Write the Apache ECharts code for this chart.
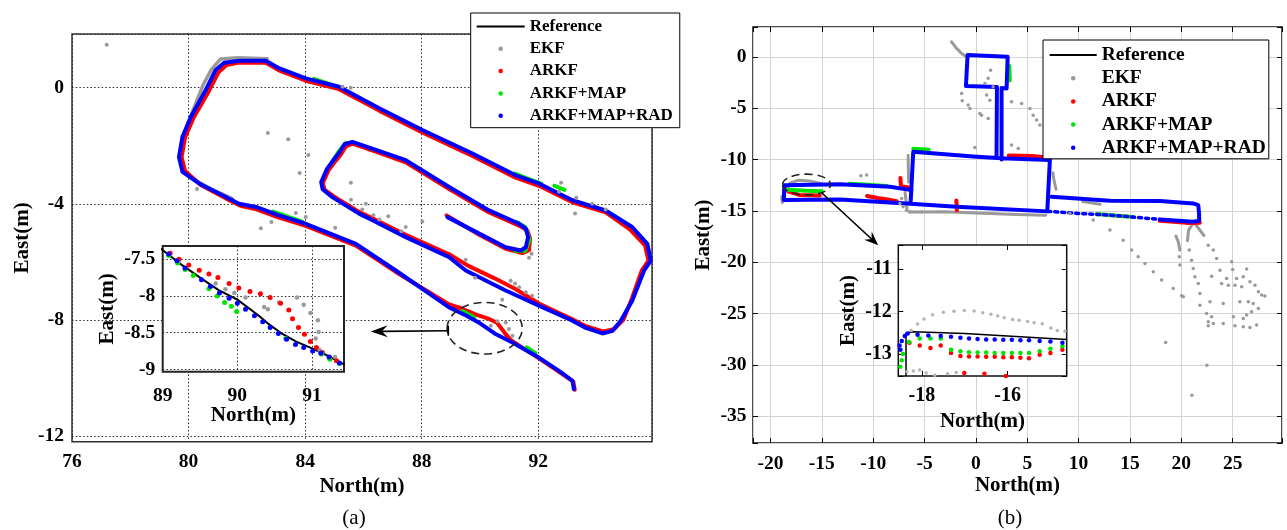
<!DOCTYPE html>
<html><head><meta charset="utf-8">
<script src="https://cdn.jsdelivr.net/npm/echarts@6/dist/echarts.min.js"></script>
<style>html,body{margin:0;padding:0;background:#fff}#c{width:1287px;height:530px}</style>
</head><body><div id="c"></div>
<script>
// ================= DATA =================
const legendNames = ['Reference','EKF','ARKF','ARKF+MAP','ARKF+MAP+RAD'];

// ---- panel (a) axes ----
const xExtA = [76, 95.9], yExtA = [-12.2, 1.85];
const xTicksA = [76, 80, 84, 88, 92], yTicksA = [-12, -8, -4, 0];
const xExtAi = [89, 91.43], yExtAi = [-9.03, -7.32];
const xTicksAi = [89, 90, 91], yTicksAi = [-9, -8.5, -8, -7.5];

// ---- panel (a) main trajectories ----
const radA = [
[88.88,-4.46],[89.97,-5.03],[90.88,-5.50],[91.40,-5.61],[91.57,-5.50],[91.65,-5.15],[91.57,-4.86],[91.34,-4.69],[90.31,-4.23],[88.94,-3.42],[87.45,-2.50],[86.30,-2.10],[85.62,-1.87],[85.35,-1.95],[85.16,-2.25],[84.95,-2.52],[84.75,-2.80],[84.55,-3.25],[84.60,-3.50],[84.93,-3.77],[85.85,-4.34],[86.31,-4.57],[87.45,-5.15],[88.94,-5.84],[89.51,-6.30],[90.88,-6.99],[92.02,-7.51],[93.17,-8.03],[93.63,-8.28],[94.20,-8.47],[94.54,-8.38],[94.83,-8.03],[95.22,-7.34],[95.63,-6.30],[95.86,-5.96],[95.74,-5.38],[95.22,-4.80],[94.31,-4.23],[93.17,-3.88],[92.02,-3.30],[91.22,-3.02],[89.74,-2.27],[88.02,-1.46],[86.54,-0.71],[85.16,0.03],[84.02,0.32],[83.10,0.67],[82.65,0.93],[81.73,0.93],[81.22,0.86],[80.93,0.61],[80.59,-0.08],[80.08,-1.00],[79.79,-1.69],[79.67,-2.39],[79.79,-2.90],[80.36,-3.30],[81.28,-3.77],[81.73,-4.00],[82.31,-4.11],[83.10,-4.40],[84.02,-4.69],[85.74,-5.38],[87.11,-6.30],[88.94,-7.57],[89.52,-7.85],[90.00,-8.12],[90.55,-8.50],[91.11,-8.78],[92.02,-9.30],[92.71,-9.76],[93.17,-10.10],[93.22,-10.39]
];
const arkfA = [
[88.85,-4.40],[89.97,-5.07],[90.88,-5.55],[91.45,-5.70],[91.68,-5.60],[91.72,-5.20],[91.62,-4.92],[91.36,-4.76],[90.31,-4.30],[88.94,-3.49],[87.45,-2.57],[86.30,-2.16],[85.62,-1.93],[85.40,-2.02],[85.22,-2.31],[85.00,-2.58],[84.80,-2.85],[84.61,-3.27],[84.66,-3.51],[84.97,-3.74],[85.85,-4.28],[86.31,-4.50],[87.45,-5.07],[88.94,-5.74],[89.60,-6.14],[90.50,-6.57],[91.20,-6.93],[92.02,-7.44],[93.17,-7.98],[93.63,-8.22],[94.22,-8.40],[94.60,-8.32],[94.92,-8.00],[95.22,-7.24],[95.55,-6.30],[95.78,-5.96],[95.66,-5.43],[95.14,-4.88],[94.31,-4.30],[93.17,-3.95],[92.02,-3.38],[91.22,-3.10],[89.74,-2.35],[88.02,-1.54],[86.54,-0.79],[85.16,-0.05],[84.02,0.24],[83.10,0.60],[82.65,0.86],[81.73,0.87],[81.30,0.78],[81.02,0.52],[80.69,-0.13],[80.17,-1.04],[79.88,-1.71],[79.76,-2.39],[79.88,-2.87],[80.42,-3.35],[81.32,-3.84],[81.78,-4.07],[82.33,-4.19],[83.10,-4.48],[84.02,-4.76],[85.74,-5.44],[87.11,-6.35],[88.94,-7.47],[89.35,-7.60],[89.89,-7.83],[90.31,-7.97],[90.58,-8.10],[90.74,-8.31],[90.90,-8.52],[91.06,-8.70],[91.33,-8.88],[92.02,-9.33],[92.71,-9.79],[93.20,-10.13],[93.25,-10.41]
];
const mapA = [
[84.30,0.30],[84.70,0.17],[85.00,0.07], null,
[82.90,-4.27],[83.40,-4.44],[83.90,-4.62], null,
[91.20,-2.96],[91.70,-3.16],[92.10,-3.31], null,
[92.55,-3.38],[92.90,-3.52], null,
[91.25,-4.63],[91.55,-4.80],[91.70,-5.25],[91.55,-5.62],[91.20,-5.62], null,
[85.40,-1.90],[85.15,-2.20],[84.90,-2.60], null,
[89.40,-7.70],[89.80,-7.92], null,
[91.60,-8.95],[91.90,-9.15]
];
const ekfLineA = [
[79.95,-1.30],[80.30,-0.40],[80.50,0.10],[80.78,0.62],[81.10,0.99],[81.70,1.03],[82.70,1.00], null,
[80.15,-3.15],[80.90,-3.55],[81.50,-3.82]
];
const ekfPtsA = [
[77.19,1.48],[82.72,-1.56],[83.42,-1.78],[84.11,-2.32],[83.81,-2.94],[80.29,-3.49],[85.57,-3.28],[85.57,-3.86],[83.68,-4.32],[84.02,-4.46],[82.84,-4.63],[82.48,-4.84],[85.03,-4.83],[85.28,0.03],[85.56,0.00],[86.08,-4.00],[85.96,-4.20],[86.34,-4.40],[86.54,-4.54],[86.85,-4.43],[87.45,-4.80],[87.30,-4.95],[88.02,-4.61],[89.51,-5.93],[92.78,-3.28],[92.71,-3.59],[93.30,-3.79],[93.26,-4.34],[93.85,-4.00],[94.31,-4.20],[91.77,-5.72],[91.68,-5.86],[89.83,-6.55],[91.05,-6.65],[91.34,-6.88],[91.57,-7.05],[91.79,-7.17],[90.76,-7.31],[90.88,-8.09],[90.99,-8.32],[91.11,-8.55],[90.37,-8.20],[90.60,-8.05],[91.20,-6.75]
];
// annotations (a): ellipse [cx, cy, rx, ry], arrow [x0, y0, x1, y1]
const ellipseA = [90.16, -8.29, 1.29, 0.89];
const arrowA = [88.91, -8.375, 86.25, -8.40];

// ---- panel (a) inset ----
const refAi = [[88.98,-7.36],[89.26,-7.58],[89.53,-7.77],[89.75,-7.92],[90.00,-8.05],[90.16,-8.17],[90.29,-8.27],[90.43,-8.39],[90.61,-8.52],[90.79,-8.62],[90.97,-8.70],[91.15,-8.78],[91.43,-8.93]];
const ekfAi = [[89.71,-7.83],[89.84,-7.91],[89.96,-7.96],[90.11,-8.02],[90.36,-8.15],[90.41,-8.18],[90.56,-8.09],[90.80,-8.02],[90.89,-8.12],[90.98,-8.23],[91.08,-8.33],[91.09,-8.49],[91.05,-8.58],[91.10,-8.73],[91.31,-8.83]];
const arkfAi = [[88.99,-7.35],[89.10,-7.42],[89.22,-7.50],[89.35,-7.58],[89.49,-7.65],[89.62,-7.70],[89.74,-7.75],[89.89,-7.83],[90.02,-7.89],[90.17,-7.94],[90.31,-7.97],[90.44,-8.02],[90.58,-8.10],[90.69,-8.19],[90.74,-8.31],[90.82,-8.43],[90.90,-8.52],[90.98,-8.62],[91.06,-8.70],[91.14,-8.77],[91.24,-8.84],[91.33,-8.88]];
const mapAi = [[89.08,-7.45],[89.20,-7.55],[89.30,-7.64],[89.41,-7.72],[89.62,-7.90],[89.73,-8.00],[89.83,-8.09],[89.92,-8.14],[89.99,-8.21],[90.65,-8.58],[91.13,-8.79],[91.24,-8.86],[91.37,-8.92]];
const radAi = [[88.98,-7.36],[89.08,-7.43],[89.19,-7.52],[89.30,-7.62],[89.52,-7.78],[89.64,-7.87],[89.76,-7.96],[89.89,-8.03],[90.00,-8.10],[90.11,-8.18],[90.23,-8.27],[90.34,-8.35],[90.44,-8.43],[90.55,-8.51],[90.66,-8.59],[90.78,-8.66],[90.89,-8.70],[91.01,-8.75],[91.12,-8.78],[91.23,-8.83],[91.37,-8.91]];

// ---- panel (b) axes ----
const xExtB = [-21.7, 29.8], yExtB = [-37.6, 2.9];
const xTicksB = [-20,-15,-10,-5,0,5,10,15,20,25], yTicksB = [-35,-30,-25,-20,-15,-10,-5,0];
const xExtBi = [-18.55, -14.62], yExtBi = [-13.52, -10.44];
const xTicksBi = [-18, -16], yTicksBi = [-13, -12, -11];

// ---- panel (b) main trajectories ----
const radB = [
[2.01,-9.74],[2.05,-2.95],[-0.97,-2.85],[-0.81,0.17],[3.09,0.00],[2.99,-3.08],[2.50,-3.05],[2.50,-10.00], null,
[-6.36,-14.30],[-6.10,-9.25],[-0.26,-9.70],[2.50,-9.88],[7.20,-10.06],[6.95,-15.05], null,
[-18.70,-13.95],[-13.24,-13.89],[-6.36,-14.30],[-1.88,-14.60],[7.00,-15.05], null,
[17.92,-15.83],[21.16,-16.06],[21.74,-15.97],[21.72,-15.20],[21.65,-14.44],[21.16,-14.28],[17.92,-14.05],[13.05,-14.02],[7.37,-13.63], null,
[-18.70,-13.95],[-18.65,-12.50],[-13.24,-12.40],[-8.37,-12.66],[-6.26,-12.98]
];
const radDotB = [[7.00,-15.05],[9.15,-15.20],[11.42,-15.33],[13.05,-15.42],[15.50,-15.62],[17.92,-15.83]];
const arkfB = [
[-18.30,-13.10],[-17.20,-13.45],[-15.20,-13.50], null,
[-10.60,-13.55],[-9.60,-13.75],[-8.60,-13.90],[-7.70,-14.05], null,
[-7.35,-11.80],[-7.30,-12.60],[-6.60,-12.70], null,
[-1.90,-14.00],[-1.85,-14.95], null,
[3.20,-9.62],[5.50,-9.67],[7.30,-9.85], null,
[17.90,-15.97],[20.50,-16.17],[21.80,-16.15]
];
const mapB = [
[-12.30,-12.35],[-10.50,-12.45],[-8.70,-12.58], null,
[-6.10,-8.95],[-4.60,-9.05], null,
[3.25,-0.90],[3.30,-2.30], null,
[-18.30,-12.95],[-16.50,-13.05],[-15.00,-13.10], null,
[11.75,-15.30],[13.50,-15.45],[15.30,-15.60]
];
const ekfLineB = [
[-2.37,1.46],[-1.88,0.82],[-1.39,0.33],[-0.90,0.00], null,
[-6.60,-9.60],[-6.55,-12.20], null,
[-6.90,-13.20],[-6.70,-14.80], null,
[-6.50,-15.12],[-3.00,-15.08],[0.00,-15.22],[4.00,-15.36],[6.80,-15.42], null,
[-18.45,-12.90],[-18.10,-12.30],[-17.30,-12.02],[-16.20,-12.10],[-15.20,-12.30],[-14.60,-12.50], null,
[7.50,-11.30],[7.60,-12.00],[7.80,-12.90], null,
[21.20,-16.10],[20.70,-16.90],[20.60,-17.90], null,
[21.20,-16.10],[21.60,-16.60],[22.20,-17.40], null,
[19.47,-17.46],[19.70,-18.01],[19.86,-18.82], null,
[10.40,-14.10],[12.10,-14.35], null,
[-18.90,-13.60],[-18.85,-14.20]
];
const ekfPtsB = [
[1.43,-1.30],[1.20,-2.10],[0.88,-2.60],[1.68,-2.92],[1.04,-3.73],[1.36,-4.22],[-1.33,-4.28],[-0.58,-5.03],[0.55,-5.68],[1.20,-6.00],[-0.10,-8.82],[3.47,-4.38],[4.45,-4.54],[5.26,-5.03],[5.58,-5.68],[5.91,-6.16],[6.23,-6.65],[3.47,-8.60],[4.12,-8.92],[-1.39,-3.57],[-0.75,-4.70],[0.39,-5.51],
[-11.20,-11.59],[-10.64,-11.52],[-7.23,-13.79],[-7.40,-14.28],[-7.08,-14.60],[-6.75,-14.93],[-6.43,-15.09],[-5.29,-15.10],
[9.15,-15.25],[11.42,-15.90],[13.05,-16.87],[14.34,-17.85],[15.16,-18.82],[15.80,-19.47],[16.46,-20.12],[17.27,-20.93],[18.08,-21.74],[19.21,-22.55],[20.19,-23.37],
[19.80,-19.47],[19.86,-20.28],[20.77,-18.82],[21.00,-19.80],[21.16,-20.60],[21.32,-21.42],[21.65,-22.07],[21.81,-23.04],
[22.62,-18.34],[23.11,-18.82],[23.44,-19.63],[23.76,-20.77],
[24.90,-19.96],[25.00,-20.70],[26.36,-20.67],[22.95,-21.36],[24.41,-21.58],[25.38,-21.58],[26.03,-21.42],[26.68,-21.91],[23.92,-22.07],[24.57,-22.23],[25.22,-22.23],[25.87,-22.39],[27.17,-22.23],[27.50,-22.88],[27.82,-23.20],[28.14,-23.30],[22.79,-23.85],[24.08,-24.01],[25.70,-23.85],[26.52,-23.85],[27.00,-24.01],[27.50,-24.50],[26.84,-24.83],[26.36,-25.15],[26.03,-25.47],[22.46,-24.99],[22.95,-25.31],[22.62,-25.80],[23.11,-25.96],[22.62,-26.19],[24.08,-25.96],[25.06,-25.31],[25.22,-26.19],[26.03,-26.29],[26.68,-26.35],[27.33,-26.12],[21.81,-24.18],[20.03,-23.27],
[18.47,-27.81],[22.49,-30.02],[21.03,-32.94]
];
const ellipseB = [-16.48, -12.44, 2.34, 1.02];
const arrowB = [-15.02, -13.24, -9.51, -18.34];

// ---- panel (b) inset ----
const refBi = [[-18.37,-13.52],[-18.37,-12.51],[-18.20,-12.48],[-17.00,-12.52],[-16.00,-12.58],[-14.62,-12.66]];
const ekfBi = [[-18.25,-12.45],[-18.10,-12.30],[-17.95,-12.18],[-17.75,-12.08],[-17.50,-12.02],[-17.25,-12.00],[-17.01,-11.98],[-16.78,-11.99],[-16.58,-12.03],[-16.39,-12.07],[-16.23,-12.11],[-16.08,-12.15],[-15.88,-12.19],[-15.73,-12.21],[-15.53,-12.24],[-15.38,-12.27],[-15.19,-12.29],[-14.99,-12.39],[-14.84,-12.45],[-14.66,-12.47],
[-18.35,-13.42],[-18.20,-13.40],[-18.05,-13.38],[-17.90,-13.45],[-17.70,-13.50],[-17.40,-13.47],[-17.20,-13.44]];
const arkfBi = [[-18.29,-12.74],[-18.05,-12.80],[-17.80,-12.86],[-17.56,-12.80],[-17.32,-12.98],[-17.10,-13.05],[-16.90,-13.06],[-16.70,-13.06],[-16.50,-13.07],[-16.30,-13.07],[-16.10,-13.08],[-15.90,-13.08],[-15.70,-13.09],[-15.50,-13.10],[-15.25,-13.02],[-15.00,-12.98],[-14.72,-12.90],[-17.01,-13.45],[-16.54,-13.47],[-16.04,-13.52]];
const mapBi = [[-18.50,-13.30],[-18.47,-13.15],[-18.44,-13.00],[-18.30,-12.72],[-18.05,-12.64],[-17.80,-12.64],[-17.56,-12.64],[-17.32,-12.90],[-17.10,-12.94],[-16.90,-12.96],[-16.70,-12.97],[-16.50,-12.97],[-16.30,-12.98],[-16.10,-12.98],[-15.90,-12.98],[-15.70,-12.98],[-15.50,-12.98],[-15.25,-12.94],[-15.00,-12.88],[-14.72,-12.82]];
const radBi = [[-18.50,-12.90],[-18.52,-12.80],[-18.47,-12.70],[-18.40,-12.58],[-18.33,-12.52],[-18.10,-12.55],[-17.85,-12.57],[-17.56,-12.58],[-17.32,-12.60],[-17.10,-12.62],[-16.90,-12.64],[-16.70,-12.65],[-16.50,-12.66],[-16.30,-12.66],[-16.10,-12.67],[-15.90,-12.67],[-15.70,-12.68],[-15.50,-12.68],[-15.25,-12.70],[-15.00,-12.71],[-14.72,-12.74]];

// ================= STYLE / BUILD =================
const FONT = '"Liberation Serif","Times New Roman",serif';
const C = {ref:'#000000', ekf:'#9a9a9a', arkf:'#ff0000', map:'#00e600', rad:'#0000ff'};
const gap = a => a.map(p => p ? p : ['-','-']);
const nameStyle = {fontFamily:FONT, fontWeight:'bold', fontSize:21, color:'#000'};
const lbl = (size, margin, ticks) => ({fontFamily:FONT, fontWeight:'bold', fontSize:size, color:'#000', margin, customValues:ticks});
const step = t => t[1]-t[0];

function axis(o) {
  const base = {type:'value', min:o.ext[0], max:o.ext[1], minInterval:step(o.ticks), maxInterval:step(o.ticks),
    gridIndex:o.grid, z:o.z||0, axisLine:{show:false, onZero:false}, nameMoveOverlap:false,
    axisTick: o.tick ? {show:true, inside:true, length:5, lineStyle:{color:'#000', width:1}} : {show:false},
    axisLabel: o.label ? lbl(o.size||19.5, o.margin, o.ticks) : {show:false},
    splitLine: o.split ? {show:true, lineStyle:o.split} : {show:false}};
  if (o.position) base.position = o.position;
  if (o.name) Object.assign(base, {name:o.name, nameLocation:'middle', nameGap:o.nameGap, nameTextStyle:nameStyle});
  return base;
}
const dotted = {color:'#2a2a2a', width:1, type:[1.5,2.2]};
const light = {color:'#d4d4d4', width:1, type:'solid'};

function lineS(name, data, color, width, xi, yi, extra) {
  return Object.assign({type:'line', name, data:gap(data), xAxisIndex:xi, yAxisIndex:yi, symbol:'none', showSymbol:false,
    connectNulls:false, silent:true, animation:false, itemStyle:{color},
    lineStyle:{color, width, cap:'round', join:'round'}, z:2}, extra||{});
}
function dotS(name, data, color, size, xi, yi, z) {
  return {type:'scatter', name, data, xAxisIndex:xi, yAxisIndex:yi, symbol:'circle', symbolSize:size,
    itemStyle:{color, opacity:1}, silent:true, animation:false, z:z||2};
}
function ellipseItem(params, api) {
  const c = api.coord([api.value(0), api.value(1)]);
  const e = api.coord([api.value(0)+api.value(2), api.value(1)+api.value(3)]);
  return {type:'ellipse', shape:{cx:c[0], cy:c[1], rx:Math.abs(e[0]-c[0]), ry:Math.abs(e[1]-c[1])},
    style:{fill:'none', stroke:'#222', lineWidth:1.6, lineDash:[8,5]}};
}
function makeArrow(headLen, headHalf, bar) {
  return function(params, api) {
    const p0 = api.coord([api.value(0), api.value(1)]);
    const p1 = api.coord([api.value(2), api.value(3)]);
    const dx=p1[0]-p0[0], dy=p1[1]-p0[1], L=Math.hypot(dx,dy), ux=dx/L, uy=dy/L, nx=-uy, ny=ux;
    const bx=p1[0]-ux*headLen, by=p1[1]-uy*headLen;
    const mx=p1[0]-ux*headLen*0.65, my=p1[1]-uy*headLen*0.65;
    const ch = [
      {type:'line', shape:{x1:p0[0], y1:p0[1], x2:mx, y2:my}, style:{stroke:'#000', lineWidth:1.6}},
      {type:'polygon', shape:{points:[[p1[0],p1[1]],[bx+nx*headHalf,by+ny*headHalf],[mx,my],[bx-nx*headHalf,by-ny*headHalf]]}, style:{fill:'#000'}}
    ];
    if (bar) ch.push({type:'line', shape:{x1:p0[0]+nx*bar, y1:p0[1]+ny*bar, x2:p0[0]-nx*bar, y2:p0[1]-ny*bar}, style:{stroke:'#000', lineWidth:1.6}});
    return {type:'group', children:ch};
  };
}
function legend(left, top, size, iw, igap, pad, refIcon) {
  return {left, top, orient:'vertical', itemWidth:iw, itemHeight:4.5, itemGap:igap, padding:pad,
    backgroundColor:'#fff', borderColor:'#000', borderWidth:1, selectedMode:false, z:10,
    textStyle:{fontFamily:FONT, fontWeight:'bold', fontSize:size, color:'#000'},
    data:legendNames.map((n,i) => i===0 ? {name:n, icon:refIcon, itemStyle:{color:'#000'}} : {name:n, icon:'circle'})};
}

const option = {
  animation:false,
  backgroundColor:'#fff',
  grid:[
    {left:72, top:34, width:580, height:407.7, show:true, borderColor:'#333', borderWidth:1.5},
    {left:162.7, top:246, width:181.3, height:125.7, show:true, borderColor:'#222', borderWidth:2, backgroundColor:'#fff', z:3},
    {left:753, top:27, width:529, height:416, show:true, borderColor:'#111', borderWidth:1.5},
    {left:898.3, top:245, width:168.4, height:131, show:true, borderColor:'#111', borderWidth:1.5, backgroundColor:'#fff', z:3}
  ],
  xAxis:[
    axis({grid:0, ext:xExtA, ticks:xTicksA, label:true, margin:10, split:dotted, name:'North(m)', nameGap:34}),
    axis({grid:1, ext:xExtAi, ticks:xTicksAi, label:true, margin:14, split:dotted, name:'North(m)', nameGap:33, z:4}),
    axis({grid:2, ext:xExtB, ticks:xTicksB, label:true, margin:11, split:light, tick:true, name:'North(m)', nameGap:32}),
    axis({grid:2, ext:xExtB, ticks:xTicksB, tick:true, position:'top'}),
    axis({grid:3, ext:xExtBi, ticks:xTicksBi, label:true, size:20, margin:10, tick:true, name:'North(m)', nameGap:35, z:4}),
    axis({grid:3, ext:xExtBi, ticks:xTicksBi, tick:true, position:'top', z:4})
  ],
  yAxis:[
    axis({grid:0, ext:yExtA, ticks:yTicksA, label:true, margin:8, split:dotted, name:'East(m)', nameGap:39}),
    axis({grid:1, ext:yExtAi, ticks:yTicksAi, label:true, margin:7.5, split:dotted, name:'East(m)', nameGap:45, z:4}),
    axis({grid:2, ext:yExtB, ticks:yTicksB, label:true, margin:6.5, split:light, tick:true, name:'East(m)', nameGap:39}),
    axis({grid:2, ext:yExtB, ticks:yTicksB, tick:true, position:'right'}),
    axis({grid:3, ext:yExtBi, ticks:yTicksBi, label:true, size:20, margin:6.5, tick:true, name:'East(m)', nameGap:39.5, z:4}),
    axis({grid:3, ext:yExtBi, ticks:yTicksBi, tick:true, position:'right', z:4})
  ],
  legend:[
    legend(470.7, 13, 17, 48, 5.3, [5,7,3.5,6], 'path://M0,0L48,0L48,2L0,2Z'),
    legend(1043, 40, 19.5, 47, 3.2, [5,3,1,6.7], 'path://M0,0L47,0L47,2L0,2Z')
  ],
  graphic:[
    {type:'text', x:354, y:518, style:{text:'(a)', fontFamily:FONT, fontSize:21, fill:'#000', align:'center', verticalAlign:'middle'}},
    {type:'text', x:1010, y:518, style:{text:'(b)', fontFamily:FONT, fontSize:21, fill:'#000', align:'center', verticalAlign:'middle'}}
  ],
  series:[
    // inset (a)
    lineS('Reference', refAi, C.ref, 2, 1, 1, {z:5}),
    dotS('EKF', ekfAi, C.ekf, 4.5, 1, 1, 5),
    dotS('ARKF', arkfAi, C.arkf, 5, 1, 1, 5),
    dotS('ARKF+MAP', mapAi, C.map, 5, 1, 1, 5),
    dotS('ARKF+MAP+RAD', radAi, C.rad, 5, 1, 1, 5),
    // main (a)
    lineS('EKF', ekfLineA, C.ekf, 3.5, 0, 0),
    dotS('EKF', ekfPtsA, C.ekf, 4, 0, 0),
    lineS('ARKF', arkfA, C.arkf, 4, 0, 0),
    lineS('ARKF+MAP', mapA, C.map, 4, 0, 0),
    lineS('ARKF+MAP+RAD', radA, C.rad, 4, 0, 0),
    {type:'custom', name:'ellA', xAxisIndex:0, yAxisIndex:0, data:[ellipseA], renderItem:ellipseItem, silent:true, z:3},
    {type:'custom', name:'arrA', xAxisIndex:0, yAxisIndex:0, data:[arrowA], renderItem:makeArrow(17, 6, 5), silent:true, z:3},
    // main (b)
    lineS('EKF', ekfLineB, C.ekf, 3, 2, 2),
    dotS('EKF', ekfPtsB, C.ekf, 3.5, 2, 2),
    lineS('ARKF', arkfB, C.arkf, 4, 2, 2),
    lineS('ARKF+MAP', mapB, C.map, 4, 2, 2),
    lineS('ARKF+MAP+RAD', radDotB, C.rad, 3.5, 2, 2, {lineStyle:{color:C.rad, width:3.5, type:[3,4], cap:'round'}}),
    lineS('ARKF+MAP+RAD', radB, C.rad, 4, 2, 2),
    {type:'custom', name:'ellB', xAxisIndex:2, yAxisIndex:2, data:[ellipseB], renderItem:ellipseItem, silent:true, z:3},
    {type:'custom', name:'arrB', xAxisIndex:2, yAxisIndex:2, data:[arrowB], renderItem:makeArrow(14, 5.5, 0), silent:true, z:6},
    // inset (b)
    lineS('Reference', refBi, C.ref, 1.5, 4, 4, {z:5}),
    dotS('EKF', ekfBi, '#b4b4b4', 3.5, 4, 4, 5),
    dotS('ARKF', arkfBi, C.arkf, 4.5, 4, 4, 5),
    dotS('ARKF+MAP', mapBi, C.map, 4.5, 4, 4, 5),
    dotS('ARKF+MAP+RAD', radBi, C.rad, 4.5, 4, 4, 5)
  ]
};
const chart = echarts.init(document.getElementById('c'), null, {renderer:'canvas'});
chart.setOption(option);
</script>
</body></html>
